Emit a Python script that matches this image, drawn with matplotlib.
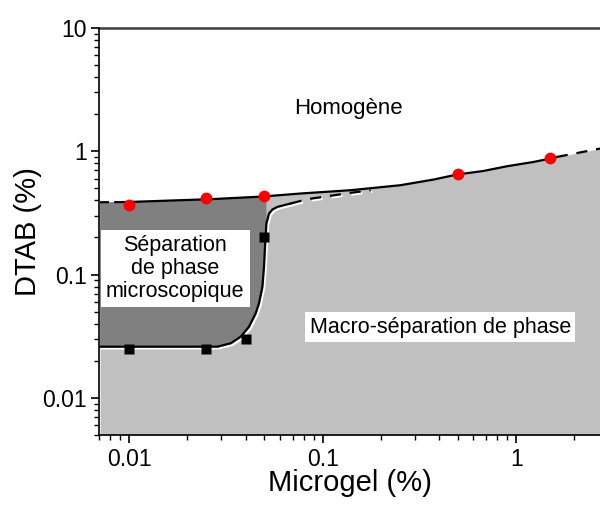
import matplotlib
matplotlib.use("Agg")
import matplotlib.pyplot as plt
import matplotlib.transforms as mtransforms
import matplotlib.ticker as mticker

plt.rcParams['font.family'] = ['Liberation Sans', 'DejaVu Sans']

# ---- data ----
# homogeneous / phase-separated boundary (red points)
red_x = [0.01, 0.025, 0.05, 0.5, 1.5]
red_y = [0.37, 0.42, 0.43, 0.65, 0.88]
# macro-separation boundary (black squares)
sq_x = [0.01, 0.025, 0.04, 0.05]
sq_y = [0.025, 0.025, 0.030, 0.20]

# upper boundary curve
top_x = [0.00709, 0.0085, 0.01, 0.0265, 0.05, 0.0513, 0.077, 0.1394, 0.2524, 0.3747,
         0.4948, 0.6784, 0.8955, 1.228, 1.497, 1.621, 2.71]
top_y = [0.386, 0.387, 0.388, 0.409, 0.430, 0.432, 0.4545, 0.4832, 0.5306, 0.5899,
         0.6477, 0.6927, 0.7559, 0.819, 0.8727, 0.8992, 1.0517]

# lower (macro-separation) boundary curve
low_x = [0.00709, 0.02866, 0.03356, 0.03778, 0.0417, 0.04514, 0.04694, 0.04889,
         0.04983, 0.05043, 0.05127, 0.05287, 0.05506, 0.05842, 0.0684]
low_y = [0.0260, 0.02602, 0.02773, 0.03136, 0.03779, 0.04851, 0.05843, 0.07964,
         0.1157, 0.168, 0.2598, 0.313, 0.3372, 0.354, 0.3772]
# dashed continuation of the lower curve
lowd_x = [0.0684, 0.0836, 0.106, 0.135, 0.177]
lowd_y = [0.3772, 0.409, 0.432, 0.457, 0.483]

xticks = [0.01, 0.1, 1]
xticklabels = ["0.01", "0.1", "1"]
yticks = [0.01, 0.1, 1, 10]
yticklabels = ["0.01", "0.1", "1", "10"]

XMIN, XMAX = 0.007, 2.71
YMIN, YMAX = 0.005, 10

fig = plt.figure(figsize=(6.0, 5.05), dpi=100)
ax = fig.add_axes([0.165, 0.1386, 0.835, 0.806])
ax.set_xscale('log')
ax.set_yscale('log')
ax.set_xlim(XMIN, XMAX)
ax.set_ylim(YMIN, YMAX)

# light grey region below upper boundary
ax.fill_between(top_x, top_y, YMIN, color='#c0c0c0', lw=0, zorder=1)

# dark grey micro-separation region (between upper curve and lower curve)
n_top = sum(1 for v in top_x if v <= 0.0513)
n_low = sum(1 for v in low_x if v <= 0.0513)
poly_x = list(top_x[:n_top]) + list(low_x[:n_low][::-1])
poly_y = list(top_y[:n_top]) + list(low_y[:n_low][::-1])
ax.fill(poly_x, poly_y, color='#808080', lw=0, zorder=2)

dash = (0, (5, 4))
# upper curve: short dash on the left, solid, dashed on the right
ax.plot(top_x[:2], top_y[:2], color='black', lw=1.6, ls=(0, (4, 3)), zorder=4)
ax.plot(top_x[1:16], top_y[1:16], color='black', lw=1.6, zorder=4)
ax.plot(top_x[15:], top_y[15:], color='black', lw=1.6, ls=dash, zorder=4)

# lower curve with white shadow
shadow = mtransforms.offset_copy(ax.transData, fig=fig, x=1.2, y=-1.2, units='points')
ax.plot(low_x, low_y, color='white', lw=1.6, transform=shadow, zorder=3)
ax.plot(lowd_x, lowd_y, color='white', lw=1.6, ls=dash, transform=shadow, zorder=3)
ax.plot(low_x, low_y, color='black', lw=1.6, zorder=4)
ax.plot(lowd_x, lowd_y, color='black', lw=1.6, ls=dash, zorder=4)

# markers
ax.plot(red_x, red_y, 'o', color='#ff0000', ms=8.5, mec='none', zorder=6)
ax.plot(sq_x, sq_y, 's', color='black', ms=6.5, mec='none', zorder=6)

# annotations
ax.text(0.497, 0.803, "Homogène", transform=ax.transAxes, ha='center', va='center',
        fontsize=16, zorder=7)
ax.text(0.152, 0.409, "Séparation\nde phase\nmicroscopique", transform=ax.transAxes,
        ha='center', va='center', fontsize=15.5, linespacing=1.1, zorder=7,
        bbox=dict(boxstyle='square,pad=0.25', fc='white', ec='none'))
ax.text(0.681, 0.265, "Macro-séparation de phase", transform=ax.transAxes,
        ha='center', va='center', fontsize=15.5, zorder=7,
        bbox=dict(boxstyle='square,pad=0.2', fc='white', ec='none'))

# axes styling
ax.spines['right'].set_visible(False)
ax.spines['top'].set_color('#404040')
ax.spines['top'].set_linewidth(1.8)
for s in ('left', 'bottom'):
    ax.spines[s].set_color('black')
    ax.spines[s].set_linewidth(1.2)
    ax.spines[s].set_zorder(8)

ax.set_xticks(xticks)
ax.set_xticklabels(xticklabels)
ax.set_yticks(yticks)
ax.set_yticklabels(yticklabels)
ax.tick_params(which='major', direction='out', length=6, width=1.2, labelsize=16.5,
               top=False, right=False, pad=3)
ax.tick_params(which='minor', direction='out', length=3.5, width=1.0,
               top=False, right=False)
ax.xaxis.set_minor_formatter(mticker.NullFormatter())
ax.yaxis.set_minor_formatter(mticker.NullFormatter())

ax.set_xlabel("Microgel (%)", fontsize=21)
ax.set_ylabel("DTAB (%)", fontsize=21)
ax.xaxis.set_label_coords(0.5, -0.083)
ax.yaxis.set_label_coords(-0.113, 0.5)

fig.savefig("out.png", dpi=100)
